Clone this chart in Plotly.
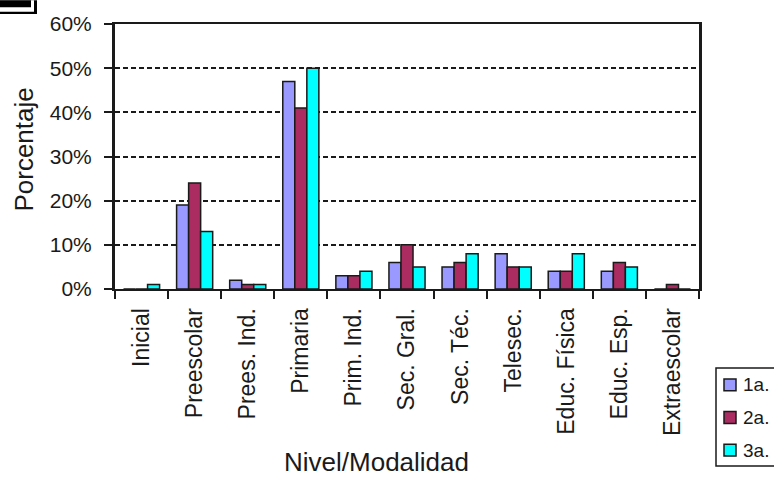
import plotly.graph_objects as go

categories = ['Inicial', 'Preescolar', 'Prees. Ind.', 'Primaria', 'Prim. Ind.', 'Sec. Gral.',
              'Sec. Téc.', 'Telesec.', 'Educ. Física', 'Educ. Esp.', 'Extraescolar']
primero = [0, 19, 2, 47, 3, 6, 5, 8, 4, 4, 0]
segundo = [0, 24, 1, 41, 3, 10, 6, 5, 4, 6, 1]
tercero = [1, 13, 1, 50, 4, 5, 8, 5, 8, 5, 0]
y_ticks = [0, 10, 20, 30, 40, 50, 60]
y_labels = ['0%', '10%', '20%', '30%', '40%', '50%', '60%']
series_names = ['1a.', '2a.', '3a.']
series_colors = ['#9999ff', '#aa2c60', '#00ffff']

INK = '#1a1a1a'
W, H = 774, 481
L, R, T, B = 115, 699, 21, 289


def px(x):
    return (x - L) / (R - L)


def py(y):
    return (B - y) / (B - T)


fig = go.Figure()
for name, vals, col in zip(series_names, [primero, segundo, tercero], series_colors):
    fig.add_trace(go.Bar(x=categories, y=vals, name=name, marker=dict(color=col, line=dict(color=INK, width=1.5))))

fig.update_layout(
    width=W, height=H,
    margin=dict(l=L, r=W - R, t=T, b=H - B),
    paper_bgcolor='white', plot_bgcolor='white',
    barmode='group', bargap=0.32, bargroupgap=0,
    showlegend=False,
    font=dict(family='Liberation Sans, Arial, sans-serif', size=21, color=INK),
    xaxis=dict(
        tickangle=-90, ticks='outside', ticklen=8, tickcolor=INK, tickwidth=2,
        tickson='boundaries', ticklabelstandoff=8, tickfont=dict(size=23),
        showline=True, linecolor=INK, linewidth=2, mirror=True,
        showgrid=False, range=[-0.5, 10.5],
    ),
    yaxis=dict(
        range=[0, 60], tickvals=y_ticks, ticktext=y_labels,
        ticks='outside', ticklen=8, tickcolor=INK, tickwidth=2, ticklabelstandoff=8,
        showline=True, linecolor=INK, linewidth=3, mirror=True,
        showgrid=True, gridcolor=INK, griddash='5px,3px', gridwidth=1.5, zeroline=False,
    ),
)

# axis titles sit off-centre in the source
fig.add_annotation(xref='paper', yref='paper', x=px(376), y=py(464), text='Nivel/Modalidad', showarrow=False,
                   xanchor='center', yanchor='middle', font=dict(size=26))
fig.add_annotation(xref='paper', yref='paper', x=px(24), y=py(148), text='Porcentaje', showarrow=False,
                   textangle=-90, xanchor='center', yanchor='middle', font=dict(size=26))

# legend box, clipped by the right edge as in the source
fig.add_shape(type='rect', xref='paper', yref='paper', x0=px(716), x1=px(W + 5), y0=py(468), y1=py(369),
              line=dict(color=INK, width=1.5), fillcolor='white')
for i, (name, col) in enumerate(zip(series_names, series_colors)):
    yc = 386 + i * 33
    fig.add_shape(type='rect', xref='paper', yref='paper', x0=px(724), x1=px(736), y0=py(yc + 6), y1=py(yc - 6),
                  line=dict(color=INK, width=1.5), fillcolor=col)
    fig.add_annotation(xref='paper', yref='paper', x=px(741), y=py(yc), text=name, showarrow=False,
                       xanchor='left', yanchor='middle', font=dict(size=19))

# fragment of a black-framed icon in the top left corner
for x1, y1, col in [(37, 11, 'black'), (34, 8.5, 'white'), (31, 4, 'black')]:
    fig.add_shape(type='rect', xref='paper', yref='paper', x0=px(-3), x1=px(x1), y0=py(y1), y1=py(-3),
                  line=dict(width=0), fillcolor=col)

fig.write_html("out.html", config=dict(displayModeBar=False), post_script="document.body.style.margin = '0';")
